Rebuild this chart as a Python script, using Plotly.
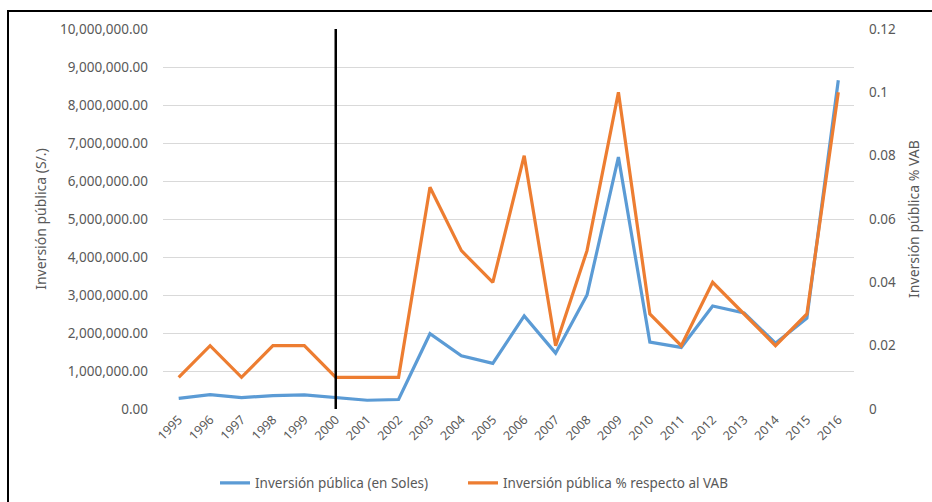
import plotly.graph_objects as go

years = [1995, 1996, 1997, 1998, 1999, 2000, 2001, 2002, 2003, 2004, 2005,
         2006, 2007, 2008, 2009, 2010, 2011, 2012, 2013, 2014, 2015, 2016]
inversion_soles = [280000, 380000, 300000, 350000, 370000, 310000, 230000, 250000,
                   1980000, 1400000, 1200000, 2450000, 1470000, 3000000, 6630000,
                   1760000, 1620000, 2710000, 2530000, 1730000, 2390000, 8650000]
inversion_pct_vab = [0.01, 0.02, 0.01, 0.02, 0.02, 0.01, 0.01, 0.01, 0.07, 0.05, 0.04,
                     0.08, 0.02, 0.05, 0.10, 0.03, 0.02, 0.04, 0.03, 0.02, 0.03, 0.10]
name_soles = "Inversión pública (en Soles)"
name_pct = "Inversión pública % respecto al VAB"
marker_year = 2000

BLUE = "#5B9BD5"
ORANGE = "#ED7D31"
GRAY = "#595959"
FONT = "Noto Sans"

fig = go.Figure()
fig.add_trace(go.Scatter(x=years, y=inversion_soles, name=name_soles, mode="lines",
                         line=dict(color=BLUE, width=3.2), yaxis="y", legend="legend"))
fig.add_trace(go.Scatter(x=years, y=inversion_pct_vab, name=name_pct, mode="lines",
                         line=dict(color=ORANGE, width=3.2), yaxis="y2", legend="legend2"))

# vertical marker line at 2000
fig.add_shape(type="line", xref="x", yref="y", x0=marker_year, x1=marker_year,
              y0=0, y1=10000000, line=dict(color="black", width=2.5), layer="above")

# outer border (cropped frame)
W, H = 932, 502
L, R, T, B = 163, 78, 29, 93
pw, ph = W - L - R, H - T - B
def px(x):
    return (x - L) / pw
def py(y):
    return (H - B - y) / ph
fig.add_shape(type="rect", xref="paper", yref="paper",
              x0=px(8), x1=px(960), y0=py(530), y1=py(11),
              line=dict(color="black", width=2), fillcolor="rgba(0,0,0,0)")

legend_common = dict(orientation="h", xanchor="left", y=py(483), yanchor="middle",
                     font=dict(family=FONT, size=13.5, color=GRAY),
                     bgcolor="rgba(0,0,0,0)")

fig.update_layout(
    width=W, height=H,
    margin=dict(l=L, r=R, t=T, b=B, pad=0, autoexpand=False),
    paper_bgcolor="white", plot_bgcolor="white",
    font=dict(family=FONT, size=13, color=GRAY),
    showlegend=True,
    legend=dict(x=px(215), **legend_common),
    legend2=dict(x=px(463), **legend_common),
    xaxis=dict(range=[1994.5, 2016.5], tickmode="array", tickvals=years,
               ticktext=[str(y) for y in years], tickangle=-45, showgrid=False,
               zeroline=False, showline=False, ticks="", automargin=False,
               tickfont=dict(family=FONT, size=12.5, color=GRAY)),
    yaxis=dict(range=[0, 10000000], dtick=1000000, tickformat=",.2f",
               showgrid=True, gridcolor="#D9D9D9", gridwidth=1, zeroline=False,
               showline=False, ticks="", ticklabelstandoff=14, automargin=False,
               title=dict(text="Inversión pública (S/.)", standoff=10,
                          font=dict(family=FONT, size=14, color=GRAY)),
               tickfont=dict(family=FONT, size=13.5, color=GRAY)),
    yaxis2=dict(range=[0, 0.12], dtick=0.02, overlaying="y", side="right",
                showgrid=False, zeroline=False, showline=False, ticks="",
                ticklabelstandoff=14, automargin=False,
                title=dict(text="Inversión pública % VAB", standoff=14,
                           font=dict(family=FONT, size=14, color=GRAY)),
                tickfont=dict(family=FONT, size=13.5, color=GRAY)),
)

fig.write_html("out.html")
